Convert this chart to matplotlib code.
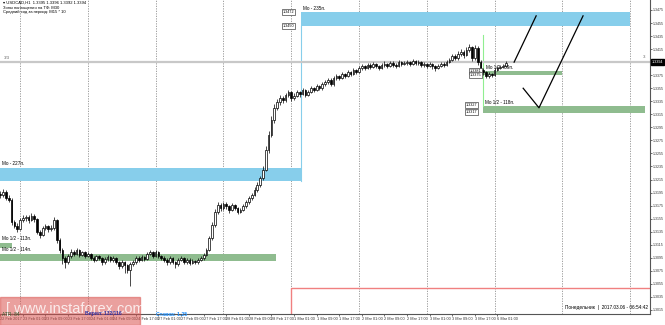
import numpy as np
import matplotlib.pyplot as plt
from matplotlib.patches import Rectangle

plt.rcParams['font.family'] = ['Liberation Sans', 'DejaVu Sans']

# USDCAD H1, bar 0 = 22 Feb 2017 17:00
first_open = 1.3193
closes = [
    1.3191, 1.3196, 1.3187, 1.3184, 1.3150, 1.3144, 1.3139, 1.3153,
    1.3156, 1.3157, 1.3153, 1.3159, 1.3154, 1.3135, 1.3130, 1.3140,
    1.3144, 1.3139, 1.3140, 1.3153, 1.3122, 1.3107, 1.3094, 1.3088,
    1.3098, 1.3104, 1.3101, 1.3107, 1.3099, 1.3104, 1.3098, 1.3101,
    1.3094, 1.3092, 1.3098, 1.3094, 1.3088, 1.3093, 1.3096, 1.3092,
    1.3094, 1.3088, 1.3082, 1.3088, 1.3084, 1.3076, 1.3085, 1.3088,
    1.3094, 1.3092, 1.3096, 1.3093, 1.3101, 1.3104, 1.3098, 1.3104,
    1.3098, 1.3094, 1.3092, 1.3088, 1.3094, 1.3088, 1.3085, 1.3092,
    1.3094, 1.3088, 1.3092, 1.3087, 1.3090, 1.3088, 1.3092, 1.3094,
    1.3099, 1.3107, 1.3125, 1.3145, 1.3165, 1.3176, 1.3171, 1.3177,
    1.3174, 1.3168, 1.3176, 1.3171, 1.3165, 1.3168, 1.3174, 1.3180,
    1.3187, 1.3191, 1.3199, 1.3207, 1.3217, 1.3230, 1.3260, 1.3283,
    1.3306, 1.3325, 1.3334, 1.3340, 1.3337, 1.3345, 1.3349, 1.3340,
    1.3343, 1.3349, 1.3346, 1.3352, 1.3345, 1.3349, 1.3355, 1.3352,
    1.3358, 1.3355, 1.3361, 1.3365, 1.3368, 1.3361, 1.3371, 1.3374,
    1.3371, 1.3377, 1.3374, 1.3380, 1.3377, 1.3383, 1.3380, 1.3386,
    1.3389, 1.3386, 1.3391, 1.3388, 1.3392, 1.3389, 1.3386, 1.3391,
    1.3392, 1.3389, 1.3394, 1.3391, 1.3389, 1.3395, 1.3392, 1.3394,
    1.3395, 1.3392, 1.3397, 1.3394, 1.3395, 1.3391, 1.3392, 1.3389,
    1.3392, 1.3389, 1.3386, 1.3389, 1.3392, 1.3391, 1.3395, 1.3398,
    1.3404, 1.3401, 1.3408, 1.3411, 1.3406, 1.3414, 1.3418, 1.3401,
    1.3417, 1.3395, 1.3383, 1.3380, 1.3374, 1.3377, 1.3375, 1.3383,
    1.3386, 1.3388, 1.3389, 1.3394,
]
highs = [
    1.3198, 1.3200, 1.3199, 1.3192, 1.3186, 1.3153, 1.3148, 1.3156,
    1.3160, 1.3161, 1.3160, 1.3163, 1.3162, 1.3156, 1.3138, 1.3143,
    1.3147, 1.3146, 1.3145, 1.3158, 1.3155, 1.3125, 1.3110, 1.3098,
    1.3101, 1.3108, 1.3107, 1.3110, 1.3109, 1.3106, 1.3106, 1.3104,
    1.3103, 1.3097, 1.3100, 1.3100, 1.3096, 1.3096, 1.3099, 1.3098,
    1.3097, 1.3096, 1.3090, 1.3091, 1.3090, 1.3086, 1.3088, 1.3092,
    1.3097, 1.3097, 1.3099, 1.3098, 1.3104, 1.3107, 1.3106, 1.3107,
    1.3106, 1.3100, 1.3097, 1.3094, 1.3097, 1.3096, 1.3090, 1.3095,
    1.3097, 1.3096, 1.3094, 1.3094, 1.3093, 1.3092, 1.3095, 1.3097,
    1.3102, 1.3110, 1.3128, 1.3150, 1.3170, 1.3181, 1.3179, 1.3180,
    1.3180, 1.3176, 1.3179, 1.3178, 1.3173, 1.3171, 1.3177, 1.3183,
    1.3190, 1.3195, 1.3203, 1.3211, 1.3221, 1.3236, 1.3266, 1.3290,
    1.3312, 1.3331, 1.3339, 1.3345, 1.3343, 1.3348, 1.3353, 1.3351,
    1.3347, 1.3352, 1.3351, 1.3355, 1.3354, 1.3352, 1.3358, 1.3357,
    1.3361, 1.3360, 1.3364, 1.3368, 1.3371, 1.3370, 1.3374, 1.3377,
    1.3376, 1.3380, 1.3379, 1.3383, 1.3382, 1.3386, 1.3385, 1.3389,
    1.3392, 1.3391, 1.3394, 1.3393, 1.3395, 1.3394, 1.3391, 1.3394,
    1.3396, 1.3394, 1.3397, 1.3396, 1.3393, 1.3398, 1.3397, 1.3397,
    1.3399, 1.3397, 1.3400, 1.3399, 1.3398, 1.3397, 1.3395, 1.3394,
    1.3395, 1.3394, 1.3391, 1.3392, 1.3395, 1.3395, 1.3398, 1.3402,
    1.3408, 1.3407, 1.3412, 1.3415, 1.3413, 1.3418, 1.3423, 1.3420,
    1.3422, 1.3419, 1.3398, 1.3386, 1.3382, 1.3380, 1.3379, 1.3386,
    1.3389, 1.3391, 1.3392, 1.3396,
]
lows = [
    1.3187, 1.3188, 1.3183, 1.3180, 1.3146, 1.3140, 1.3134, 1.3137,
    1.3150, 1.3152, 1.3149, 1.3151, 1.3150, 1.3131, 1.3126, 1.3128,
    1.3137, 1.3135, 1.3136, 1.3138, 1.3118, 1.3102, 1.3086, 1.3079,
    1.3085, 1.3095, 1.3097, 1.3099, 1.3096, 1.3097, 1.3095, 1.3096,
    1.3091, 1.3089, 1.3090, 1.3091, 1.3084, 1.3086, 1.3090, 1.3089,
    1.3088, 1.3085, 1.3078, 1.3080, 1.3072, 1.3071, 1.3052, 1.3082,
    1.3086, 1.3089, 1.3090, 1.3090, 1.3091, 1.3099, 1.3095, 1.3096,
    1.3095, 1.3091, 1.3088, 1.3084, 1.3086, 1.3085, 1.3080, 1.3083,
    1.3090, 1.3086, 1.3086, 1.3084, 1.3085, 1.3085, 1.3086, 1.3090,
    1.3092, 1.3097, 1.3105, 1.3123, 1.3142, 1.3162, 1.3166, 1.3168,
    1.3170, 1.3164, 1.3166, 1.3168, 1.3162, 1.3163, 1.3166, 1.3172,
    1.3178, 1.3184, 1.3189, 1.3196, 1.3204, 1.3214, 1.3228, 1.3256,
    1.3280, 1.3302, 1.3321, 1.3330, 1.3333, 1.3334, 1.3342, 1.3336,
    1.3337, 1.3341, 1.3342, 1.3344, 1.3342, 1.3343, 1.3347, 1.3349,
    1.3350, 1.3352, 1.3353, 1.3359, 1.3362, 1.3358, 1.3359, 1.3368,
    1.3368, 1.3369, 1.3371, 1.3372, 1.3374, 1.3375, 1.3377, 1.3378,
    1.3383, 1.3383, 1.3384, 1.3385, 1.3386, 1.3386, 1.3383, 1.3384,
    1.3388, 1.3386, 1.3387, 1.3388, 1.3386, 1.3387, 1.3389, 1.3390,
    1.3391, 1.3389, 1.3390, 1.3391, 1.3391, 1.3388, 1.3388, 1.3386,
    1.3387, 1.3385, 1.3382, 1.3384, 1.3387, 1.3388, 1.3389, 1.3393,
    1.3396, 1.3398, 1.3399, 1.3405, 1.3402, 1.3404, 1.3410, 1.3396,
    1.3399, 1.3390, 1.3378, 1.3376, 1.3370, 1.3371, 1.3372, 1.3373,
    1.3381, 1.3384, 1.3386, 1.3387,
]

price_ticks = [round(1.3475 - 0.0020 * k, 4) for k in range(24)]
time_labels = ["22 Feb 2017", "23 Feb 01:00", "23 Feb 09:00", "23 Feb 17:00",
               "24 Feb 01:00", "24 Feb 09:00", "24 Feb 17:00", "27 Feb 01:00",
               "27 Feb 09:00", "27 Feb 17:00", "28 Feb 01:00", "28 Feb 09:00",
               "28 Feb 17:00", "1 Mar 01:00", "1 Mar 09:00", "1 Mar 17:00",
               "2 Mar 01:00", "2 Mar 09:00", "2 Mar 17:00", "3 Mar 01:00",
               "3 Mar 09:00", "3 Mar 17:00", "6 Mar 01:00"]
day_starts = [7, 31, 55, 79, 103, 127, 151, 175, 199, 223]

# zones: start bar, end bar, top, bottom
zone_start = [0, 106.5, 0, 0, 171.3, 170.9]
zone_end = [106.5, 222.9, 4.2, 97.6, 198.9, 228.2]
zone_top = [1.3233, 1.3472, 1.3118, 1.3101, 1.3381, 1.3327]
zone_bottom = [1.3213, 1.3450, 1.3110, 1.3090, 1.3375, 1.3317]
zone_color = ["#87ceeb", "#87ceeb", "#8fbc8f", "#8fbc8f", "#8fbc8f", "#8fbc8f"]
zone_text = ["Мо - 227п.", "Мо - 235п.", "Мо 1/2 - 113п.", "Мо 1/2 - 114п.",
             "Мо 1/2 - 59п.", "Мо 1/2 - 118п."]

# projected path drawn by hand on chart
path1_bar = [181.9, 189.7]
path1_px = [1.3395, 1.3466]
path2_bar = [185.1, 190.7, 206.3]
path2_px = [1.3355, 1.3325, 1.3466]

red_level = 1.3049
red_start = 102.9
last_price = 1.3394

W, H = 665, 325
fig = plt.figure(figsize=(W / 100, H / 100), dpi=100)
ax = fig.add_axes([0, 11 / H, 650 / W, 314 / H])
ax.set_xlim(-0.1, 230)
ax.set_ylim(1.30088, 1.34903)

for b in day_starts:
    ax.axvline(b, color="#909090", lw=0.6, ls=(0, (1.5, 1.5)), zorder=0)

for s, e, t, bt, col in zip(zone_start, zone_end, zone_top, zone_bottom, zone_color):
    ax.add_patch(Rectangle((s, bt), e - s, t - bt, color=col, lw=0, zorder=1))

ax.plot([106.5, 106.5], [1.3213, 1.3450], color="#87ceeb", lw=0.8, zorder=1)
ax.plot([170.9, 170.9], [1.3327, 1.3437], color="#90ee90", lw=0.8, zorder=1)
ax.plot([red_start, red_start, 230], [1.29, red_level, red_level], color="#f08080", lw=1, zorder=1)
ax.axhline(last_price + 0.0001, color="#c8c8c8", lw=1.6, zorder=1)

# candles
opens = [first_open] + closes[:-1]
ax.vlines(range(len(closes)), lows, highs, color="black", lw=0.5, zorder=2)
for i, (o, c) in enumerate(zip(opens, closes)):
    lo, hi = min(o, c), max(o, c)
    if hi - lo < 0.00005:
        ax.plot([i - 0.3, i + 0.3], [c, c], color="black", lw=0.7, zorder=3)
        continue
    fc = "white" if c >= o else "black"
    ax.add_patch(Rectangle((i - 0.3, lo), 0.6, hi - lo, facecolor=fc,
                           edgecolor="black", lw=0.5, zorder=3))

ax.plot(path1_bar, path1_px, color="black", lw=0.9, zorder=4)
ax.plot(path2_bar, path2_px, color="black", lw=0.9, zorder=4)

ax.yaxis.tick_right()
ax.set_yticks(price_ticks)
ax.set_yticklabels(["%.4f" % p for p in price_ticks], fontsize=2.6)
ax.set_xticks(range(0, 8 * len(time_labels), 8))
ax.set_xticklabels(time_labels, fontsize=2.8, ha="left")
ax.tick_params(axis="both", length=1.2, width=0.5, pad=0.6, colors="#333333")
for s in ["left", "top"]:
    ax.spines[s].set_visible(False)
for s in ["right", "bottom"]:
    ax.spines[s].set_color("#555555")
    ax.spines[s].set_linewidth(0.8)


def ftext(x, y, s, **kw):
    fig.text(x / W, 1 - y / H, s, va="center", **kw)


for t, s, tp in zip(zone_text, zone_start, zone_top):
    ax.text(s + 0.6, tp + 0.0006, t, fontsize=3.3, va="center", zorder=5)

ftext(3, 3, "▾ USDCAD,H1  1.3395 1.3396 1.3392 1.3394", fontsize=3.0)
ftext(3, 7.5, "Зоны поглощения на ТФ: M30", fontsize=3.0)
ftext(3, 11.5, "Средний ход за период: M15 * 10", fontsize=3.0)
ftext(4, 58, "3/3", fontsize=3.2, color="#666666")
ftext(643, 57, "3", fontsize=3.2, color="#666666")

# price boxes
for x0, y0, s in [(283, 12, "1.3472"), (283, 26, "1.3450"),
                  (466, 105, "1.3327"), (466, 112, "1.3317"),
                  (470, 71, "1.3381"), (470, 75, "1.3375")]:
    fig.text(x0 / W, 1 - y0 / H, s, fontsize=2.7, va="center",
             bbox=dict(boxstyle="square,pad=0.15", fc="white", ec="#444444", lw=0.5))

# current price label (covers the tick label at that level, as on the terminal)
fig.text(651.5 / W, 1 - 62 / H, "%.4f" % last_price, fontsize=2.7, color="white",
         va="center", bbox=dict(boxstyle="square,pad=0.25", fc="black", ec="black"),
         zorder=8)

ftext(648, 308, "Понедельник  |  2017.03.06 - 06:54:42", fontsize=3.4, ha="right")

# watermark
fig.patches.append(Rectangle((0, 0), 140 / W, 28 / H, transform=fig.transFigure,
                             color="#d9534f", alpha=0.55, zorder=5))
ftext(6, 309, "[ www.instaforex.com", fontsize=10.5, color="white", alpha=0.8, zorder=6)
ftext(2, 314, "ATR: 84", fontsize=3.5, color="#2e5e2e", zorder=7)
ftext(85, 314, "Вирил: 132/116", fontsize=3.5, color="#3030a0", weight="bold", zorder=7)
ftext(156, 314, "Ставка: 1.25", fontsize=3.7, color="#1e90ff", weight="bold", zorder=7)

fig.savefig("out.png", dpi=100)
